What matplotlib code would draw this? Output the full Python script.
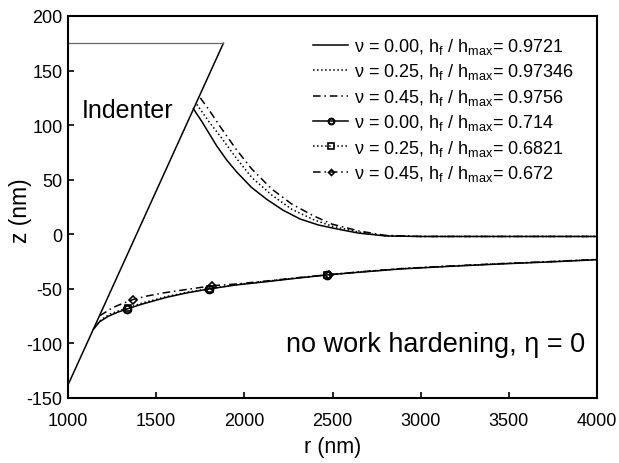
import matplotlib
matplotlib.use("Agg")
import matplotlib.pyplot as plt

plt.rcParams["font.family"] = ["Liberation Sans", "DejaVu Sans"]
plt.rcParams["mathtext.fontset"] = "custom"
plt.rcParams["mathtext.rm"] = "Liberation Sans"
plt.rcParams["mathtext.it"] = "Liberation Sans"
plt.rcParams["axes.unicode_minus"] = False

# indenter outline (cone flank + top edge)
ind_r = [1000, 1881, 1000]
ind_z = [-138, 175, 175]

# surface profiles, h_f/h_max ~ 0.97 (no markers)
up0_r = [1711, 1760, 1843, 1900, 1957, 2040, 2127, 2220, 2316, 2420, 2524, 2650, 2800, 3000, 4000]
up0_z = [115, 103, 81, 68, 57, 43, 32, 22, 14, 8.5, 4.9, 1, -1.5, -2, -2]
up1_r = [1730, 1800, 1872, 1953, 2042, 2155, 2268, 2391, 2495, 2650, 2800, 3000, 4000]
up1_z = [119, 103, 88, 70, 52, 36, 23, 13.5, 7.5, 2, -1.5, -2, -2]
up2_r = [1750, 1796, 1872, 1953, 2042, 2155, 2268, 2391, 2495, 2650, 2800, 3000, 4000]
up2_z = [125, 114.8, 96.5, 78, 59.8, 41.5, 27.8, 17, 9.4, 3, -1, -2, -2]

# surface profiles, h_f/h_max ~ 0.7 (with markers)
lo0_r = [1144, 1180, 1230, 1280, 1336, 1420, 1560, 1680, 1801, 1950, 2127, 2300, 2467, 2650, 2883, 3150, 3450, 3750, 4000]
lo0_z = [-87, -80, -75, -71.5, -68.4, -64, -57.7, -53.5, -50.1, -46.5, -43.4, -40.2, -37.3, -34.8, -31.8, -29.5, -27.2, -25.2, -23.3]
lo1_r = [1150, 1190, 1240, 1290, 1340, 1420, 1560, 1680, 1805, 1950, 2127, 2300, 2470, 2650, 2883, 3150, 3450, 3750, 4000]
lo1_z = [-85, -78, -73, -70, -67.5, -63, -57, -53, -49.8, -46.2, -43, -40, -37.1, -34.6, -31.6, -29.3, -27, -25, -23.1]
lo2_r = [1181, 1250, 1300, 1367, 1450, 1550, 1654, 1740, 1818, 1950, 2127, 2300, 2480, 2650, 2883, 3150, 3450, 3750, 4000]
lo2_z = [-74.6, -67.5, -64, -59.9, -56.5, -53.5, -51, -49, -47.1, -45.6, -42.8, -39.8, -37, -34.5, -31.5, -29.2, -26.9, -24.9, -23]
lo0_marks = [4, 8, 12]
lo1_marks = [4, 8, 12]
lo2_marks = [3, 8, 12]

labels = [
    "ν = 0.00, h$_\\mathrm{f}$ / h$_\\mathrm{max}$= 0.9721",
    "ν = 0.25, h$_\\mathrm{f}$ / h$_\\mathrm{max}$= 0.97346",
    "ν = 0.45, h$_\\mathrm{f}$ / h$_\\mathrm{max}$= 0.9756",
    "ν = 0.00, h$_\\mathrm{f}$ / h$_\\mathrm{max}$= 0.714",
    "ν = 0.25, h$_\\mathrm{f}$ / h$_\\mathrm{max}$= 0.6821",
    "ν = 0.45, h$_\\mathrm{f}$ / h$_\\mathrm{max}$= 0.672",
]

dashdot = (0, (5, 2.5, 1, 2.5))

fig = plt.figure(figsize=(6.19, 4.64), dpi=100)
ax = fig.add_axes([0.1099, 0.1401, 0.8546, 0.8233])

# cone flank in black, top edge a bit lighter
ax.plot(ind_r[:2], ind_z[:2], color="black", lw=1.1)
ax.plot(ind_r[1:], ind_z[1:], color="0.4", lw=0.9)

ax.plot(up0_r, up0_z, color="black", lw=1.1, ls="-", label=labels[0])
ax.plot(up1_r, up1_z, color="black", lw=1.1, ls=":", label=labels[1])
ax.plot(up2_r, up2_z, color="black", lw=1.1, ls=dashdot, label=labels[2])

ax.plot(lo0_r, lo0_z, color="black", lw=1.1, ls="-", marker="o", markevery=lo0_marks,
        ms=5.5, mfc="none", mec="black", mew=1.5, label=labels[3])
ax.plot(lo1_r, lo1_z, color="black", lw=1.1, ls=":", marker="s", markevery=lo1_marks,
        ms=5, mfc="none", mec="black", mew=1.2, label=labels[4])
ax.plot(lo2_r, lo2_z, color="black", lw=1.1, ls=dashdot, marker="D", markevery=lo2_marks,
        ms=4, mfc="none", mec="black", mew=1.2, label=labels[5])

ax.set_xlim(1000, 4000)
ax.set_ylim(-150, 200)
ax.set_xticks(range(1000, 4001, 500))
ax.set_yticks(range(-150, 201, 50))
ax.tick_params(direction="in", length=4, width=1.2, labelsize=13, top=False, right=False)
ax.tick_params(axis="x", pad=10)
ax.tick_params(axis="y", pad=4)
for s in ax.spines.values():
    s.set_linewidth(1.5)

ax.set_xlabel("r (nm)", fontsize=15.5, va="center")
ax.set_ylabel("z (nm)", fontsize=16.5, va="center")
ax.xaxis.set_label_coords(0.501, -0.128)
ax.yaxis.set_label_coords(-0.089, 0.492)

ax.text(1080, 114, "Indenter", fontsize=18, va="center", ha="left")
ax.text(3935, -106.5, "no work hardening, η = 0", fontsize=19.5, va="baseline", ha="right")

fig.legend(loc="upper left", bbox_to_anchor=(313 / 619, 1 - 37 / 464), frameon=False,
           fontsize=13, borderpad=0, borderaxespad=0, handlelength=1.95, handletextpad=0.3,
           labelspacing=0.3, markerscale=0.75)

fig.savefig("out.png", dpi=100)
